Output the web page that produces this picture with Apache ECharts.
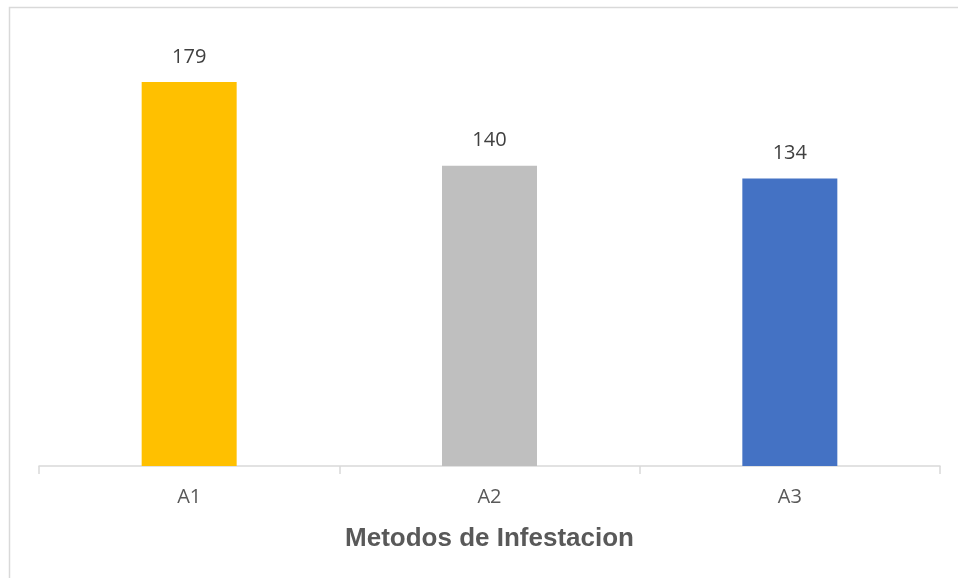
<!DOCTYPE html>
<html>
<head>
<meta charset="utf-8">
<script src="https://cdn.jsdelivr.net/npm/echarts@6/dist/echarts.min.js"></script>
<style>
  html, body { margin: 0; padding: 0; background: #ffffff; }
  #chart { width: 958px; height: 578px; }
</style>
</head>
<body>
<div id="chart"></div>
<script>
// Infestation methods and their counts
const categories = ['A1', 'A2', 'A3'];
const values = [179, 140, 134];
const barColors = ['#FFC000', '#BFBFBF', '#4472C4'];
const axisTitle = 'Metodos de Infestacion';

const chart = echarts.init(document.getElementById('chart'), null, { renderer: 'canvas' });

chart.setOption({
  backgroundColor: '#ffffff',
  animation: false,
  graphic: [{
    type: 'rect',
    shape: { x: 9.5, y: 7.5, width: 1000, height: 700 },
    style: { fill: 'none', stroke: '#d9d9d9', lineWidth: 1.5 },
    silent: true
  }],
  grid: { left: 39, right: 18, top: 37, bottom: 112 },
  xAxis: {
    type: 'category',
    data: categories,
    name: axisTitle,
    nameLocation: 'middle',
    nameGap: 60,
    nameTextStyle: {
      fontFamily: 'Liberation Sans',
      fontWeight: 'bold',
      fontSize: 26,
      color: '#595959'
    },
    axisLine: { lineStyle: { color: '#d9d9d9', width: 1.5 } },
    axisTick: { show: true, length: 8, lineStyle: { color: '#d9d9d9', width: 1.5 } },
    axisLabel: {
      margin: 21,
      fontFamily: 'Open Sans',
      fontSize: 20,
      color: '#595959'
    }
  },
  yAxis: {
    type: 'value',
    min: 0,
    max: 200,
    show: false,
    splitLine: { show: false }
  },
  series: [{
    type: 'bar',
    barWidth: 95,
    data: values.map((v, i) => ({ value: v, itemStyle: { color: barColors[i] } })),
    label: {
      show: true,
      position: 'top',
      distance: 15,
      fontFamily: 'Open Sans',
      fontSize: 20,
      color: '#404040'
    }
  }]
});
</script>
</body>
</html>
